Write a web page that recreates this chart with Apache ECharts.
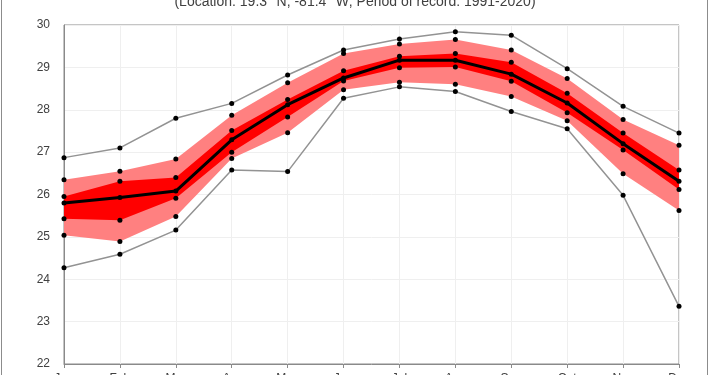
<!DOCTYPE html>
<html>
<head>
<meta charset="utf-8">
<script src="https://cdn.jsdelivr.net/npm/echarts@6/dist/echarts.min.js"></script>
<style>html,body{margin:0;padding:0;background:#fff;}#c{width:710px;height:375px;}</style>
</head>
<body>
<div id="c"></div>
<script>
const months = ['Jan','Feb','Mar','Apr','May','Jun','Jul','Aug','Sep','Oct','Nov','Dec'];
const yTicks = [22, 23, 24, 25, 26, 27, 28, 29, 30];
const maxT  = [26.87,27.10,27.80,28.15,28.82,29.41,29.67,29.84,29.76,28.97,28.08,27.45];
const p90   = [26.35,26.55,26.84,27.87,28.64,29.33,29.55,29.66,29.41,28.74,27.77,27.16];
const p75   = [25.95,26.31,26.40,27.51,28.24,28.92,29.26,29.33,29.12,28.39,27.45,26.58];
const meanT = [25.80,25.93,26.08,27.29,28.12,28.75,29.17,29.17,28.84,28.16,27.20,26.31];
const p25   = [25.43,25.39,25.91,27.00,27.83,28.68,28.99,29.01,28.67,27.93,27.05,26.12];
const p10   = [25.04,24.89,25.48,26.85,27.46,28.47,28.65,28.60,28.31,27.74,26.49,25.62];
const minT  = [24.27,24.59,25.16,26.58,26.54,28.27,28.54,28.43,27.96,27.55,25.98,23.36];
const titleText = '(Location: 19.3 °N, -81.4 °W; Period of record: 1991-2020)';

const diff = (a, b) => a.map((v, i) => +(v - b[i]).toFixed(2));
const FONT = '"Liberation Sans", Arial, sans-serif';

function dotLine(name, data, lineColor, width, z) {
  return {
    name, type: 'line', data, z,
    symbol: 'circle', symbolSize: 5, showSymbol: true,
    itemStyle: { color: '#000' },
    lineStyle: { color: lineColor, width: width, opacity: width > 0 ? 1 : 0 },
    emphasis: { disabled: true }, animation: false
  };
}

const chart = echarts.init(document.getElementById('c'), null, { renderer: 'canvas' });
chart.setOption({
  animation: false,
  backgroundColor: '#fff',
  graphic: [
    { type: 'rect', shape: { x: 1.5, y: -5, width: 706, height: 390 },
      style: { fill: 'none', stroke: '#8c8c8c', lineWidth: 1 }, silent: true, z: 100 },
    { type: 'text', x: 355, y: 2,
      style: { text: titleText, font: '14px ' + FONT, fill: '#404040',
               textAlign: 'center', textVerticalAlign: 'middle' } }
  ],
  grid: { left: 64, right: 31, top: 25, bottom: 11, show: true, outerBoundsMode: 'none', containLabel: false,
          borderColor: '#8a8a8a', borderWidth: 1, backgroundColor: 'transparent' },
  xAxis: {
    type: 'category', data: months, boundaryGap: false,
    axisLine: { lineStyle: { color: '#8a8a8a', width: 1 } },
    axisTick: { show: true, length: 4, lineStyle: { color: '#8a8a8a' } },
    axisLabel: { color: '#404040', fontFamily: FONT, fontSize: 12, margin: 9 },
    splitLine: { show: true, lineStyle: { color: '#efefef', width: 1 } }
  },
  yAxis: {
    type: 'value', min: yTicks[0], max: yTicks[yTicks.length - 1], interval: 1,
    axisLine: { show: true, lineStyle: { color: '#8a8a8a', width: 1 } },
    axisTick: { show: false },
    axisLabel: { color: '#404040', fontFamily: FONT, fontSize: 12, margin: 14 },
    splitLine: { show: true, lineStyle: { color: '#efefef', width: 1 } }
  },
  series: [
    { type: 'line', stack: 'light', data: p10, symbol: 'none', lineStyle: { opacity: 0 }, z: 1, silent: true },
    { type: 'line', stack: 'light', data: diff(p90, p10), symbol: 'none', lineStyle: { opacity: 0 },
      areaStyle: { color: '#ff8080', opacity: 1 }, z: 1, silent: true },
    { type: 'line', stack: 'dark', data: p25, symbol: 'none', lineStyle: { opacity: 0 }, z: 2, silent: true },
    { type: 'line', stack: 'dark', data: diff(p75, p25), symbol: 'none', lineStyle: { opacity: 0 },
      areaStyle: { color: '#ff0000', opacity: 1 }, z: 2, silent: true },
    dotLine('max', maxT, '#939393', 1.5, 5),
    dotLine('min', minT, '#939393', 1.5, 5),
    dotLine('p90', p90, '#000', 0, 6),
    dotLine('p75', p75, '#000', 0, 6),
    dotLine('p25', p25, '#000', 0, 6),
    dotLine('p10', p10, '#000', 0, 6),
    dotLine('mean', meanT, '#000', 3, 7)
  ]
});
</script>
</body>
</html>
